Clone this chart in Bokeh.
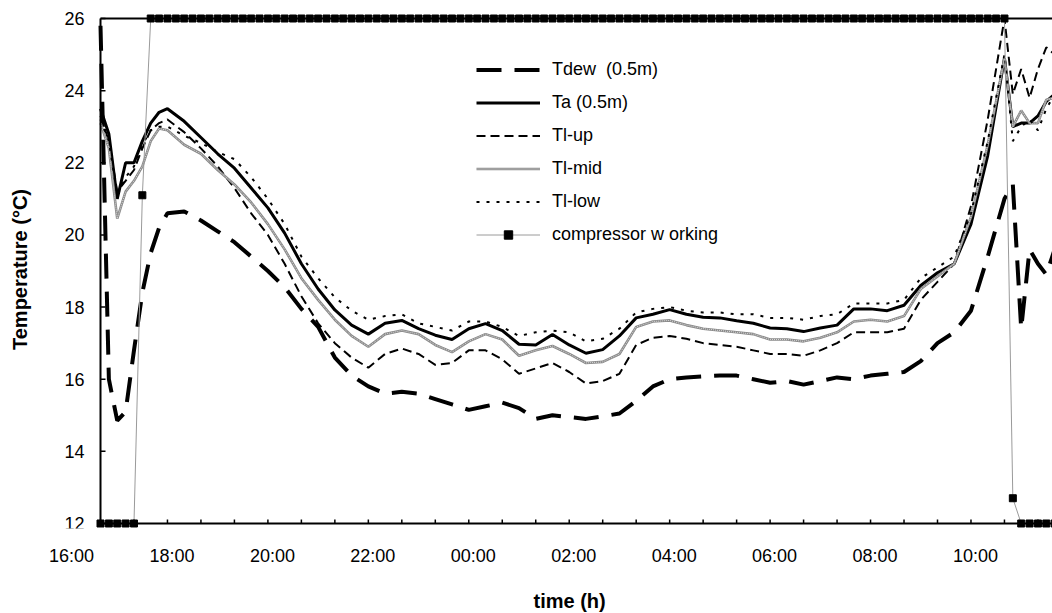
import math
from bokeh.plotting import figure
from bokeh.models import (ColumnDataSource, Legend, LegendItem, FixedTicker, Title,
                          Range1d, CustomJSTickFormatter)
from bokeh.core.properties import value
from bokeh.embed import file_html
from bokeh.resources import INLINE

# ---------------- data ----------------
times = ["16:40", "16:50", "17:00", "17:10", "17:20", "17:30", "17:40", "17:50", "18:00",
         "18:20", "18:40", "19:00", "19:20", "19:40", "20:00",
         "20:20", "20:40", "21:00", "21:20", "21:40", "22:00",
         "22:20", "22:40", "23:00", "23:20", "23:40", "00:00",
         "00:20", "00:40", "01:00", "01:20", "01:40", "02:00",
         "02:20", "02:40", "03:00", "03:20", "03:40", "04:00",
         "04:20", "04:40", "05:00", "05:20", "05:40", "06:00",
         "06:20", "06:40", "07:00", "07:20", "07:40", "08:00",
         "08:20", "08:40", "09:00", "09:20", "09:40", "10:00",
         "10:20", "10:40", "10:50", "11:00", "11:10", "11:20", "11:30", "11:40"]

t_dew = [25.8, 16.0, 14.85, 15.1, 16.8, 18.4, 19.5, 20.2, 20.6,
         20.65, 20.4, 20.1, 19.8, 19.4, 19.0,
         18.55, 17.95, 17.45, 16.6, 16.1, 15.8,
         15.6, 15.65, 15.6, 15.45, 15.3, 15.15,
         15.25, 15.35, 15.2, 14.9, 15.0, 14.95,
         14.9, 14.97, 15.05, 15.4, 15.8, 16.0,
         16.05, 16.08, 16.1, 16.1, 16.0, 15.9,
         15.95, 15.85, 15.95, 16.05, 16.0, 16.1,
         16.15, 16.2, 16.5, 17.0, 17.3, 17.9,
         19.4, 21.0, 21.4, 17.4, 19.6, 19.2, 18.9, 19.6]

t_a = [23.5, 22.8, 21.0, 22.0, 22.0, 22.6, 23.1, 23.4, 23.5,
       23.15, 22.7, 22.25, 21.85, 21.3, 20.75,
       20.05, 19.2, 18.5, 17.92, 17.5, 17.25,
       17.55, 17.63, 17.4, 17.22, 17.1, 17.4,
       17.54, 17.35, 16.97, 16.95, 17.24, 16.95,
       16.72, 16.82, 17.2, 17.7, 17.8, 17.93,
       17.8, 17.72, 17.7, 17.62, 17.55, 17.42,
       17.4, 17.32, 17.42, 17.5, 17.95, 17.95,
       17.9, 18.05, 18.6, 18.95, 19.2, 20.3,
       22.2, 24.9, 23.0, 23.1, 23.1, 23.3, 23.7, 23.9]

tl_up = [23.3, 22.6, 21.2, 21.5, 21.8, 22.4, 22.9, 23.1, 23.2,
         22.85, 22.4, 21.9, 21.3, 20.6, 20.0,
         19.2, 18.3, 17.55, 17.0, 16.6, 16.32,
         16.7, 16.85, 16.7, 16.4, 16.45, 16.8,
         16.8, 16.55, 16.15, 16.3, 16.45, 16.2,
         15.88, 15.95, 16.15, 16.95, 17.15, 17.2,
         17.12, 17.0, 16.95, 16.9, 16.8, 16.7,
         16.7, 16.65, 16.8, 17.0, 17.3, 17.3,
         17.3, 17.4, 18.2, 18.7, 19.2, 20.8,
         23.2, 26.0, 23.9, 24.6, 23.8, 24.6, 25.2, 25.0]

tl_mid = [23.1, 22.4, 20.45, 21.2, 21.5, 21.9, 22.6, 22.95, 22.9,
          22.5, 22.25, 21.8, 21.4, 20.9, 20.3,
          19.6, 18.8, 18.2, 17.65, 17.2, 16.9,
          17.25, 17.35, 17.25, 16.95, 16.75, 17.05,
          17.25, 17.1, 16.65, 16.8, 16.92, 16.7,
          16.45, 16.48, 16.7, 17.45, 17.6, 17.63,
          17.5, 17.4, 17.35, 17.3, 17.25, 17.1,
          17.1, 17.05, 17.15, 17.3, 17.6, 17.65,
          17.6, 17.75, 18.5, 18.85, 19.2, 20.5,
          22.5, 24.9, 23.0, 23.45, 23.1, 23.1, 23.75, 23.8]

tl_low = [23.2, 22.6, 21.1, 21.6, 21.9, 22.5, 22.9, 23.0, 23.0,
          22.75, 22.55, 22.3, 22.1, 21.6, 21.0,
          20.3, 19.4, 18.8, 18.27, 17.9, 17.65,
          17.75, 17.8, 17.55, 17.45, 17.35, 17.6,
          17.6, 17.45, 17.2, 17.3, 17.35, 17.3,
          17.05, 17.12, 17.4, 17.85, 17.95, 18.0,
          17.9, 17.85, 17.85, 17.8, 17.8, 17.7,
          17.7, 17.65, 17.75, 17.8, 18.1, 18.1,
          18.1, 18.2, 18.8, 19.1, 19.4, 20.6,
          22.6, 25.0, 22.6, 23.0, 23.2, 22.9, 23.5, 23.9]

# compressor indicator, one value every 10 minutes from 16:40 to 11:40
comp_start = "16:40"
comp_step_min = 10
compressor = [12, 12, 12, 12, 12, 21.1,
              26, 26, 26, 26, 26, 26, 26, 26, 26, 26, 26, 26, 26, 26, 26, 26, 26, 26, 26, 26,
              26, 26, 26, 26, 26, 26, 26, 26, 26, 26, 26, 26, 26, 26, 26, 26, 26, 26, 26, 26,
              26, 26, 26, 26, 26, 26, 26, 26, 26, 26, 26, 26, 26, 26, 26, 26, 26, 26, 26, 26,
              26, 26, 26, 26, 26, 26, 26, 26, 26, 26, 26, 26, 26, 26, 26, 26, 26, 26, 26, 26,
              26, 26, 26, 26, 26, 26, 26, 26, 26, 26, 26, 26, 26, 26, 26, 26, 26, 26, 26, 26,
              26, 26, 26,
              12.7, 12, 12, 12, 12, 12]

x_tick_labels = ["16:00", "18:00", "20:00", "22:00", "00:00", "02:00",
                 "04:00", "06:00", "08:00", "10:00"]
y_ticks = [12, 14, 16, 18, 20, 22, 24, 26]
tick_every_min = 40


def hrs(s):
    """hours elapsed since 16:00 (the night wraps past midnight)"""
    h, m = map(int, s.split(":"))
    v = h + m / 60.0
    return v - 16 if h >= 16 else v + 8


x = [hrs(s) for s in times]
comp_x = [hrs(comp_start) + i * comp_step_min / 60.0 for i in range(len(compressor))]

src = ColumnDataSource(dict(x=x, tdew=t_dew, ta=t_a, up=tl_up, mid=tl_mid, low=tl_low))
csrc = ColumnDataSource(dict(x=comp_x, y=compressor))

FONT = "Liberation Sans"

# ---------------- layout (pixel geometry) ----------------
PX_PER_H = 50.22          # horizontal scale
PX_PER_DEG = 36.07        # vertical scale
x0 = hrs("16:40")         # where the value axis stands
x_lo = x0 - 60 / PX_PER_H
x_hi = x_lo + 1012 / PX_PER_H
y_lo = y_ticks[0] - 5 / PX_PER_DEG
y_hi = y_ticks[-1] + 8 / PX_PER_DEG

p = figure(width=1052, height=613,
           x_range=Range1d(x_lo, x_hi), y_range=Range1d(y_lo, y_hi),
           output_backend="svg", toolbar_location=None,
           min_border_left=40, min_border_right=0, min_border_top=10, min_border_bottom=85)
p.outline_line_color = None
p.xgrid.visible = False
p.ygrid.visible = False
p.background_fill_color = "white"
p.border_fill_color = "white"

# ---------------- series ----------------
r_dew = p.line("x", "tdew", source=src, line_color="black", line_width=4, line_dash="25 13")
r_ta = p.line("x", "ta", source=src, line_color="black", line_width=3)
r_up = p.line("x", "up", source=src, line_color="black", line_width=2, line_dash="9 5")
r_mid = p.line("x", "mid", source=src, line_color="#8a8a8a", line_width=2.6)
r_mid2 = p.line("x", "mid", source=src, line_color="#dcdcdc", line_width=1, line_dash="1 1")
r_low = p.line("x", "low", source=src, line_color="black", line_width=2, line_dash="3 7")
r_cl = p.line("x", "y", source=csrc, line_color="#9a9a9a", line_width=1)
r_cs = p.scatter("x", "y", source=csrc, marker="square", size=7,
                 fill_color="black", line_color="black")

# ---------------- axes frame drawn on the scales ----------------
ymin, ymax = y_ticks[0], y_ticks[-1]
p.segment(x0=[x0, x0, x0], y0=[ymin, ymin, ymax], x1=[x0, x_hi, x_hi], y1=[ymax, ymin, ymax],
          line_color="black", line_width=2)
# value-axis ticks (inward) and labels
p.ray(x=[x0] * len(y_ticks), y=y_ticks, length=5, length_units="screen", angle=0,
      line_color="black", line_width=1.5)
p.text(x=[x0] * len(y_ticks), y=y_ticks, text=[str(v) for v in y_ticks],
       x_offset=-16, text_align="right", text_baseline="middle",
       text_font=value(FONT), text_font_size="18px", text_color="black")
# time-axis ticks every 40 minutes (inward)
tick_x = [k * tick_every_min / 60.0 for k in range(1, 31)]
tick_x = [t for t in tick_x if t <= x_hi]
p.ray(x=tick_x, y=[ymin] * len(tick_x), length=4, length_units="screen", angle=math.pi / 2,
      line_color="black", line_width=1.5)

# y axis: title only
ya = p.yaxis[0]
ya.ticker = FixedTicker(ticks=[], minor_ticks=[])
ya.axis_line_color = None
ya.major_tick_line_color = None
ya.minor_tick_line_color = None
ya.major_label_standoff = 0
ya.axis_label = "Temperature (°C)"
ya.axis_label_text_font = FONT
ya.axis_label_text_font_style = "bold"
ya.axis_label_text_font_size = "20px"
ya.axis_label_text_color = "black"
ya.axis_label_standoff = 10

# x axis: time labels every 2 hours (labels sit slightly right of their tick)
label_shift_h = 4.5 / PX_PER_H
label_pos = [hrs(s) + label_shift_h for s in x_tick_labels]
xa = p.xaxis[0]
xa.ticker = FixedTicker(ticks=label_pos, minor_ticks=[])
xa.formatter = CustomJSTickFormatter(code="""
    const h = (Math.round(tick) + 16) % 24;
    return (h < 10 ? '0' : '') + h + ':00';
""")
xa.axis_line_color = None
xa.major_tick_line_color = None
xa.minor_tick_line_color = None
xa.major_tick_in = 0
xa.major_tick_out = 0
xa.major_label_text_font = FONT
xa.major_label_text_font_size = "18px"
xa.major_label_text_color = "black"
xa.major_label_standoff = 17

# time-axis title, centred under the drawn axis rather than under the frame
x_title = Title(text="time (h)", align="left", offset=493, standoff=20,
                text_font=FONT, text_font_style="bold", text_font_size="20px",
                text_color="black")
if "padding" in x_title.properties():
    x_title.standoff = 0
    x_title.padding = dict(left=0, right=0, top=19, bottom=0)
p.add_layout(x_title, "below")

legend = Legend(items=[
    LegendItem(label="Tdew  (0.5m)", renderers=[r_dew]),
    LegendItem(label="Ta (0.5m)", renderers=[r_ta]),
    LegendItem(label="Tl-up", renderers=[r_up]),
    LegendItem(label="Tl-mid", renderers=[r_mid, r_mid2]),
    LegendItem(label="Tl-low", renderers=[r_low]),
    LegendItem(label="compressor w orking", renderers=[r_cl, r_cs]),
], location=(436, 283), orientation="vertical",
    border_line_color=None, background_fill_alpha=0,
    padding=0, margin=0, spacing=12,
    glyph_width=64, glyph_height=21, label_height=21, label_standoff=12,
    label_text_font=FONT, label_text_font_size="18px", label_text_color="black")
p.add_layout(legend)

open("out.html", "w").write(file_html(p, INLINE))
